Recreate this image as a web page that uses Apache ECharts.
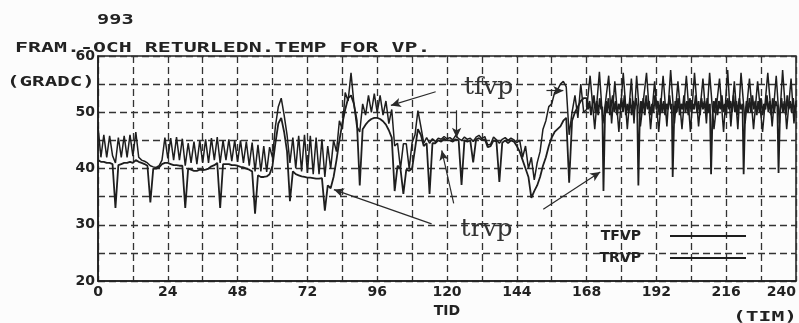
<!DOCTYPE html>
<html><head><meta charset="utf-8">
<script src="https://cdn.jsdelivr.net/npm/echarts@6/dist/echarts.min.js"></script>
<style>html,body{margin:0;padding:0;background:#fcfcfc}#c{width:799px;height:323px}</style>
</head><body><div id="c"></div>
<script>
const chartNumber = '993';
const chartTitle = 'FRAM.-OCH RETURLEDN.TEMP FOR VP.';
const yUnit = '(GRADC)';
const xName = 'TID';
const xUnit = '(TIM)';
const seriesNames = ['TFVP', 'TRVP'];
const xTickLabels = [0, 24, 48, 72, 96, 120, 144, 168, 192, 216, 240];
const yTickLabels = [20, 30, 40, 50, 60];

// supply temperature (hour, degC)
const tfvp = [
[0,47.5],[1,42],[2,46],[3,42],[4,45.8],[5,42.3],[6,41],[7,45.5],[8,42],[9,45.8],[10,42],[11,46],[12,42.2],[13,46.5],[14,42],
[15,41.5],[16,41.3],[17,41],[18,40.5],[19,40.3],[20,40.2],[21,40.5],[22,41.5],[23,45.5],[24,41.8],[25,45.4],[26,41.5],[27,45.6],[28,41.5],[29,45.3],
[30,40.5],[31,44.5],[32,41],[33,44.8],[34,40.8],[35,45],[36,41],[37,45.2],[38,41],[39,45.4],[40,41.5],[41,45.6],[42,41],[43,45],[44,41.5],
[45,45.2],[46,41.3],[47,45],[48,41.2],[49,45],[50,41],[51,44.8],[52,40.5],[53,44.6],[54,39.5],[55,44.2],[56,39.5],[57,44],[58,39.4],[59,43.8],
[60,42],[61,47.5],[62,51],[63,52.5],[64,49.5],[65,46],[66,41],[67,45.5],[68,40],[69,45.8],[70,39.5],[71,46],[72,39.2],[73,45.8],[74,39],
[75,45.5],[76,39],[77,45.2],[78,38.5],[79,44],[80,40],[81,45],[82,43],[83,48.5],[84,47],[85,53.5],[86,52],[87,57],[88,51.5],[89,47.5],
[90,46.5],[91,51.5],[92,49.5],[93,53],[94,50],[95,53.3],[96,50],[97,53],[98,49.5],[99,52],[100,48],[101,50.5],[102,44],[103,44.5],[104,40],
[105,44.4],[106,44.4],[107,40],[108,44.6],[109,46],[110,50.3],[111,47.5],[112,44.5],[113,45.5],[114,44.5],[115,45.3],[116,44.8],[117,45.4],[118,45.2],[119,45.7],
[120,45.3],[121,45.5],[122,45.1],[123,45.9],[124,45.3],[125,45],[126,45.6],[127,45.2],[128,45.4],[129,44.8],[130,45.6],[131,45.9],[132,45.3],[133,45.7],[134,44.2],
[135,44.3],[136,45.6],[137,45.1],[138,44.5],[139,45.2],[140,45.5],[141,45],[142,45.4],[143,45.1],[144,44.6],[145,45],[146,42],[147,44],[148,40],[149,42],
[150,38],[151,41],[152,43],[153,47],[154,48.5],[155,51],[156,51.5],[157,53.5],[158,54],[159,55],[160,55.5],[161,54.5],[162,46],[163,50],[164,53],
[165,49],[166,55],[167,50],[168,50.5],[169.2,56.5],[170.8,47],[172.4,57.2],[173.6,48],[175.6,56.5],[176.6,48],[177.7,55.5],[179.1,46.5],[180.6,57],[182,47],
[183.4,56],[184.3,48],[185.2,56.5],[186.5,47.5],[188.6,57],[190,47],[191.4,55.5],[192.8,46.5],[194.3,56.5],[195.6,47.5],[196.9,57.5],[198.2,48],[199.4,55.5],[200.8,47],
[202.3,56.5],[203.7,46.5],[205.1,57],[206.5,47.5],[208,56],[209.2,48],[210.3,57],[211.8,47],[213.7,56],[215.1,46.5],[216.5,57.5],[217.6,47.5],[218.8,55.5],[220,47],
[221.1,57],[222.5,48],[224,56],[225.4,47],[226.8,55.5],[228.5,46.5],[230.3,57],[231.8,47.5],[233.2,56.5],[234.3,48],[235.4,57.5],[236.8,47],[238.3,56],[239.3,48],[240,52]
];

// return temperature (hour, degC)
const trvp = [
[0,41.5],[1,41.2],[2,41.2],[3,41],[4,41],[5,40.8],[6,33],[7,40.6],[8,40.8],[9,41],[10,41],[11,41.2],[12,41],[13,41.5],[14,41.2],
[15,41],[16,40.8],[17,40.5],[18,34],[19,40],[20,40],[21,40.2],[22,40.8],[23,41],[24,41],[25,40.8],[26,40.6],[27,40.6],[28,40.5],[29,40.5],
[30,33],[31,40],[32,39.8],[33,39.6],[34,39.6],[35,39.8],[36,39.7],[37,39.8],[38,40],[39,40.4],[40,40.6],[41,41],[42,33],[43,40.8],[44,40.8],
[45,40.8],[46,40.6],[47,40.6],[48,40.5],[49,40.3],[50,40.2],[51,40],[52,39.8],[53,39.5],[54,32],[55,38.8],[56,38.5],[57,38.5],[58,38.6],[59,39],
[60,40.5],[61,44.5],[62,48],[63,49],[64,46.5],[65,43],[66,34.2],[67,39.5],[68,39],[69,38.8],[70,38.6],[71,38.5],[72,38.4],[73,38.4],[74,38.3],
[75,38.2],[76,38.2],[77,38.3],[78,32.5],[79,37],[80,36.5],[81,38.5],[82,41.5],[83,45],[84,48],[85,50.5],[86,52.5],[87,53],[88,51.5],[89,48.5],
[90,37],[91,47],[92,47.8],[93,48.4],[94,48.8],[95,49],[96,49],[97,48.8],[98,48.4],[99,47.8],[100,46.8],[101,45.5],[102,36],[103,40.5],[104,40],
[105,35.5],[106,39.8],[107,39.6],[108,40],[109,43.5],[110,47],[111,46],[112,44],[113,44.5],[114,35.5],[115,44.5],[116,44.5],[117,45],[118,44.8],[119,45.3],
[120,45],[121,45],[122,44.8],[123,45.2],[124,45],[125,37.1],[126,45],[127,44.8],[128,45],[129,41.1],[130,45.2],[131,45.4],[132,45],[133,45.2],[134,43.8],
[135,44],[136,45],[137,44.8],[138,37.6],[139,44.6],[140,45],[141,44.5],[142,45],[143,44.8],[144,44],[145,43],[146,41.5],[147,40],[148,38.5],[149,34.8],
[150,36],[151,37],[152,38.5],[153,40.5],[154,42],[155,44],[156,45.5],[157,46.5],[158,47],[159,47.5],[160,48.5],[161,49],[162,37.5],[163,48.5],[164,50],
[165,51],[166,52],[167,52.5],
[168,52.5],[168.5,50.5],[169,52],[169.5,49.5],[170,51.5],[170.5,53],[171,50],[171.5,52],[172,49.5],[172.5,52.5],[173,50.5],[173.4,51],[173.8,36],[174.3,49],[174.7,52],
[175,50],[175.5,52.5],[176,49.5],[176.5,51.5],[177,53],[177.5,50],[178,52],[178.5,49.5],[179,51.5],[179.5,50.5],[180,52.5],[180.5,50],[181,53],[181.5,49.5],[182,51.5],
[182.5,50],[183,52.5],[183.5,49.5],[184,52],[184.5,50.5],[185,52.5],[185.4,51],[185.8,37],[186.3,49.5],[186.7,52],[187,50],[187.5,52.5],[188,49.5],[188.5,53],[189,50.5],
[189.5,52],[190,49.5],[190.5,51.5],[191,50],[191.5,53],[192,50.5],[192.5,52],[193,49.5],[193.5,52.5],[194,50],[194.5,52],[195,49.5],[195.5,51.5],[196,50.5],[196.5,53],
[197,50.5],[197.3,51.5],[197.6,38.5],[198.1,49],[198.5,52],[199,50],[199.5,52.5],[200,49.5],[200.5,51.5],[201,50.5],[201.5,53],[202,50],[202.5,52],[203,49.5],[203.5,52.5],
[204,50],[204.5,51.5],[205,50.5],[205.5,53],[206,50],[206.5,52],[207,49.5],[207.5,52.5],[208,50.5],[208.5,52],[209,50],[209.5,52.5],[210,50],[210.4,51.5],[210.8,39],
[211.3,49.5],[211.7,52],[212,50],[212.5,52.5],[213,49.5],[213.5,52],[214,50.5],[214.5,53],[215,50],[215.5,51.5],[216,49.5],[216.5,52.5],[217,50.5],[217.5,52],[218,50],
[218.5,53],[219,50],[219.5,52],[220,49.5],[220.5,52.5],[221,50.5],[221.6,51.5],[222,39],[222.5,49.5],[223,52],[223.5,50],[224,52.5],[224.5,50],[225,53],[225.5,50.5],
[226,52],[226.5,49.5],[227,52],[227.5,50],[228,52.5],[228.5,49.5],[229,51.5],[229.5,50.5],[230,53],[230.5,50],[231,52],[231.5,49.5],[232,52.5],[232.5,50],[233,52],
[233.6,51],[234,39.2],[234.5,50],[235,52.5],[235.5,50],[236,52],[236.5,49.5],[237,53],[237.5,50.5],[238,52],[238.5,50],[239,52.5],[239.5,50],[240,51.5]
];

// hand-drawn pointers [from, to] in (hour, degC)
const tfvpPointers = [[[116.1,53.65],[100.7,51.22]], [[123.3,50.35],[123.3,45.48]], [[154.2,53.83],[160.0,53.83]]];
const trvpPointers = [[[114.7,30.17],[81.1,36.26]], [[122.3,33.83],[118.2,43.22]], [[153.1,32.78],[172.7,39.39]]];
const tfvpLabelAt = [134.3, 54.35];
const trvpLabelAt = [133.6, 29.1];

const INK = '#1e1e1e';
const plotterFont = 'bold 14px "DejaVu Sans Mono"';
const chart = echarts.init(document.getElementById('c'), null, {renderer: 'canvas'});

function pointerLine(ptrs) {
  return {
    silent: true, animation: false,
    symbol: ['none', 'arrow'], symbolSize: [7, 10],
    lineStyle: {color: '#2a2a2a', width: 1.2, type: 'solid'},
    label: {show: false}, emphasis: {disabled: true},
    data: ptrs.map(p => [{coord: p[0]}, {coord: p[1]}])
  };
}
function handLabel(text, at) {
  return {
    silent: true, animation: false,
    symbol: 'circle', symbolSize: 1, itemStyle: {color: 'rgba(0,0,0,0)'},
    label: {show: true, position: 'inside', formatter: text, fontFamily: '"DejaVu Serif"', fontWeight: 'normal', fontSize: 25, color: '#333'},
    data: [{coord: at}]
  };
}
const dash = {type: [7, 4], color: '#333', width: 1.3};
const labelFont = {fontFamily: '"DejaVu Sans"', fontWeight: 'bold', fontSize: 14, color: '#222'};

chart.setOption({
  backgroundColor: '#fcfcfc',
  animation: false,
  grid: {left: 98, right: 2, top: 56, bottom: 36, show: true, borderColor: INK, borderWidth: 1.5, backgroundColor: 'transparent'},
  legend: {
    data: seriesNames, orient: 'vertical', right: 48, top: 224, align: 'right',
    icon: 'rect', itemWidth: 76, itemHeight: 2, itemGap: 8,
    textStyle: Object.assign({padding: [0, 24, 0, 0]}, labelFont),
    selectedMode: false
  },
  xAxis: {
    type: 'value', min: 0, max: 240, interval: 12,
    name: xName, nameLocation: 'middle', nameGap: 22, nameTextStyle: labelFont,
    axisLine: {show: true, lineStyle: {color: INK, width: 1.5}},
    axisTick: {show: false},
    axisLabel: Object.assign({margin: 4, alignMaxLabel: 'right', formatter: v => xTickLabels.includes(v) ? String(v) : ''}, labelFont),
    splitLine: {show: true, lineStyle: dash}
  },
  yAxis: {
    type: 'value', min: 20, max: 60, interval: 5,
    axisLine: {show: true, lineStyle: {color: INK, width: 1.5}},
    axisTick: {show: false},
    axisLabel: Object.assign({margin: 3, formatter: v => yTickLabels.includes(v) ? String(v) : ''}, labelFont),
    splitLine: {show: true, lineStyle: dash}
  },
  graphic: [
    {type: 'text', x: 97, y: 20, scaleX: 1.45, style: {text: chartNumber, font: plotterFont, fill: '#222', textVerticalAlign: 'middle'}},
    {type: 'text', x: 15, y: 48, scaleX: 1.54, style: {text: chartTitle, font: plotterFont, fill: '#222', textVerticalAlign: 'middle'}},
    {type: 'text', x: 7, y: 82.5, scaleX: 1.49, style: {text: yUnit, font: plotterFont, fill: '#222', textVerticalAlign: 'middle'}},
    {type: 'text', x: 733, y: 317, scaleX: 1.52, style: {text: xUnit, font: plotterFont, fill: '#222', textVerticalAlign: 'middle'}}
  ],
  series: [
    {name: seriesNames[0], type: 'line', data: tfvp, showSymbol: false, color: INK,
     lineStyle: {color: INK, width: 1.5}, markLine: pointerLine(tfvpPointers), markPoint: handLabel('tfvp', tfvpLabelAt)},
    {name: seriesNames[1], type: 'line', data: trvp, showSymbol: false, color: INK,
     lineStyle: {color: INK, width: 1.8}, markLine: pointerLine(trvpPointers), markPoint: handLabel('trvp', trvpLabelAt)}
  ]
});
</script></body></html>
